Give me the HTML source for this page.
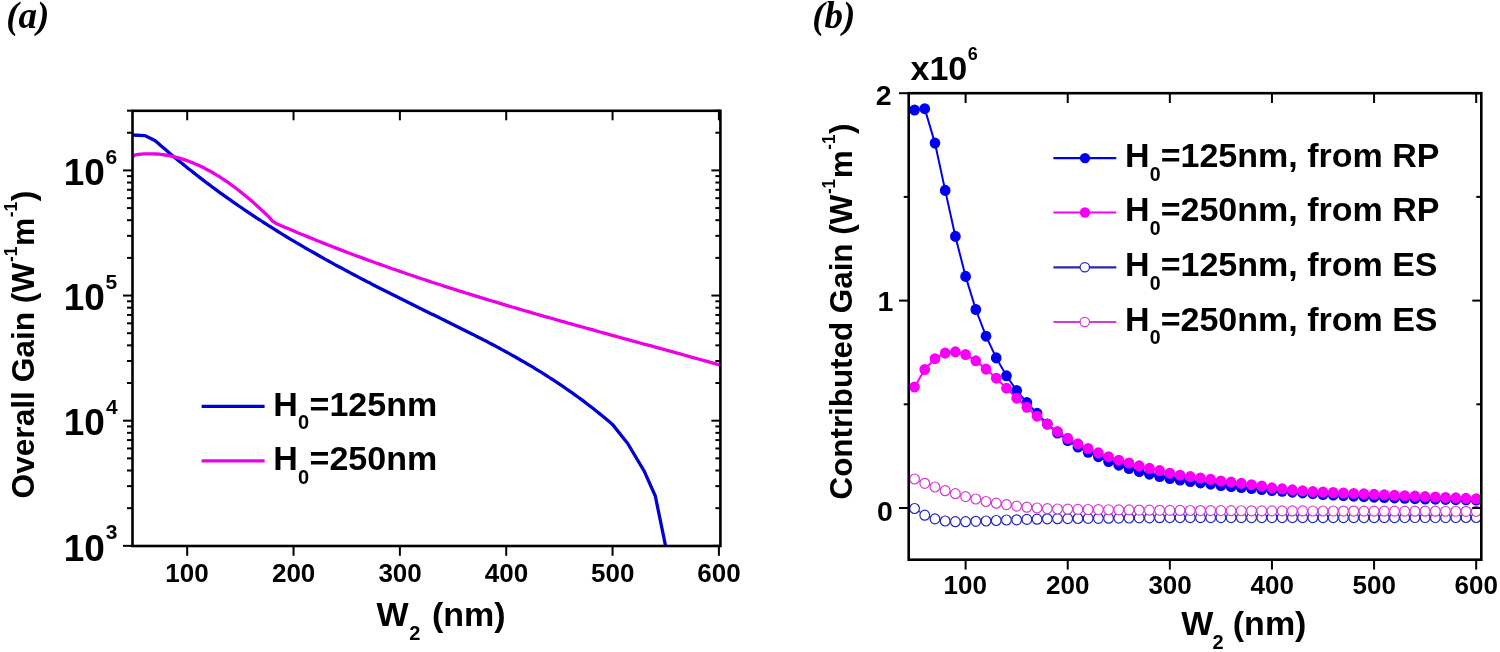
<!DOCTYPE html>
<html><head><meta charset="utf-8"><style>
html,body{margin:0;padding:0;background:#fff;width:1500px;height:652px;overflow:hidden}
svg{display:block;will-change:transform}
</style></head><body>
<svg width="1500" height="652" viewBox="0 0 1500 652">
<rect width="1500" height="652" fill="#fff"/>
<clipPath id="ca"><rect x="132.5" y="110.8" width="587.90" height="435.20"/></clipPath>
<g clip-path="url(#ca)">
<polyline points="132.3,135.0 144.7,135.6 154.9,140.4 157.9,143.1 160.9,145.7 163.9,148.3 166.9,150.8 169.9,153.4 172.9,155.9 175.9,158.4 178.9,160.9 181.9,163.3 184.9,165.7 187.9,168.2 190.9,170.5 193.9,172.9 196.9,175.2 199.9,177.6 202.9,179.9 205.9,182.2 208.9,184.4 211.9,186.7 214.9,188.9 217.9,191.1 220.9,193.3 223.9,195.4 226.9,197.6 229.9,199.7 232.9,201.8 235.9,203.9 238.9,206.0 241.9,208.0 244.9,210.1 247.9,212.1 250.9,214.1 253.9,216.1 256.9,218.1 259.9,220.0 262.9,222.0 265.9,223.9 268.9,225.8 271.9,227.7 274.9,229.6 277.9,231.5 280.9,233.3 283.9,235.1 286.9,237.0 289.9,238.8 292.9,240.6 295.9,242.4 298.9,244.1 301.9,245.9 304.9,247.7 307.9,249.4 310.9,251.1 313.9,252.8 316.9,254.5 319.9,256.2 322.9,257.9 325.9,259.6 328.9,261.3 331.9,262.9 334.9,264.6 337.9,266.2 340.9,267.8 343.9,269.4 346.9,271.0 349.9,272.6 352.9,274.2 355.9,275.8 358.9,277.4 361.9,279.0 364.9,280.5 367.9,282.1 370.9,283.6 373.9,285.2 376.9,286.7 379.9,288.3 382.9,289.8 385.9,291.3 388.9,292.8 391.9,294.3 394.9,295.8 397.9,297.3 400.9,298.8 403.9,300.3 406.9,301.8 409.9,303.3 412.9,304.8 415.9,306.3 418.9,307.8 421.9,309.2 424.9,310.7 427.9,312.2 430.9,313.7 433.9,315.1 436.9,316.6 439.9,318.1 442.9,319.5 445.9,321.0 448.9,322.5 451.9,324.0 454.9,325.4 457.9,326.9 460.9,328.4 463.9,329.9 466.9,331.4 469.9,332.9 472.9,334.4 475.9,336.0 478.9,337.5 481.9,339.0 484.9,340.6 487.9,342.1 490.9,343.7 493.9,345.3 496.9,346.9 499.9,348.5 502.9,350.1 505.9,351.8 508.9,353.4 511.9,355.1 514.9,356.8 517.9,358.5 520.9,360.2 523.9,361.9 526.9,363.7 529.9,365.4 532.9,367.2 535.9,369.1 538.9,370.9 541.9,372.7 544.9,374.6 547.9,376.5 550.9,378.5 553.9,380.4 556.9,382.4 559.9,384.4 562.9,386.4 565.9,388.5 568.9,390.6 571.9,392.7 574.9,394.8 577.9,397.0 580.9,399.2 583.9,401.4 586.9,403.7 589.9,406.0 592.9,408.3 595.9,410.7 598.9,413.1 601.9,415.5 604.9,418.0 607.9,420.5 610.9,423.0 612.5,424.4 627.7,443.5 644.2,471.2 655.3,496.0 665.5,545.6" fill="none" stroke="#0000D4" stroke-width="3.3" stroke-linejoin="round"/>
<polyline points="132.3,156.8 135.3,154.8 138.3,154.4 141.3,154.1 144.3,153.9 147.3,153.8 150.3,153.8 153.3,153.8 156.3,154.0 159.3,154.2 162.3,154.6 165.3,155.0 168.3,155.5 171.3,156.1 174.3,156.8 177.3,157.6 180.3,158.4 183.3,159.3 186.3,160.4 189.3,161.5 192.3,162.6 195.3,163.9 198.3,165.2 201.3,166.6 204.3,168.1 207.3,169.7 210.3,171.3 213.3,173.0 216.3,174.8 219.3,176.7 222.3,178.6 225.3,180.6 228.3,182.7 231.3,184.8 234.3,187.0 237.3,189.3 240.3,191.6 243.3,194.0 246.3,196.5 249.3,199.0 252.3,201.6 255.3,204.2 258.3,206.9 261.3,209.7 264.3,212.5 267.3,215.4 270.3,218.4 272.1,220.6 276.1,223.5 280.1,225.2 284.1,226.9 288.1,228.6 292.1,230.3 296.1,232.0 300.1,233.7 304.1,235.3 308.1,236.9 312.1,238.6 316.1,240.2 320.1,241.8 324.1,243.4 328.1,245.0 332.1,246.5 336.1,248.1 340.1,249.6 344.1,251.1 348.1,252.7 352.1,254.2 356.1,255.7 360.1,257.1 364.1,258.6 368.1,260.1 372.1,261.5 376.1,263.0 380.1,264.4 384.1,265.8 388.1,267.3 392.1,268.7 396.1,270.0 400.1,271.4 404.1,272.8 408.1,274.2 412.1,275.5 416.1,276.9 420.1,278.2 424.1,279.5 428.1,280.9 432.1,282.2 436.1,283.5 440.1,284.8 444.1,286.1 448.1,287.4 452.1,288.6 456.1,289.9 460.1,291.2 464.1,292.4 468.1,293.7 472.1,294.9 476.1,296.1 480.1,297.4 484.1,298.6 488.1,299.8 492.1,301.0 496.1,302.2 500.1,303.4 504.1,304.6 508.1,305.8 512.1,307.0 516.1,308.1 520.1,309.3 524.1,310.5 528.1,311.6 532.1,312.8 536.1,314.0 540.1,315.1 544.1,316.3 548.1,317.4 552.1,318.5 556.1,319.7 560.1,320.8 564.1,321.9 568.1,323.1 572.1,324.2 576.1,325.3 580.1,326.4 584.1,327.5 588.1,328.6 592.1,329.7 596.1,330.9 600.1,332.0 604.1,333.1 608.1,334.2 612.1,335.3 616.1,336.4 620.1,337.5 624.1,338.6 628.1,339.7 632.1,340.8 636.1,341.9 640.1,343.0 644.1,344.1 648.1,345.1 652.1,346.2 656.1,347.3 660.1,348.4 664.1,349.5 668.1,350.6 672.1,351.7 676.1,352.8 680.1,353.9 684.1,355.0 688.1,356.1 692.1,357.3 696.1,358.4 700.1,359.5 704.1,360.6 708.1,361.7 712.1,362.8 716.1,363.9 720.1,365.1 720.5,365.2" fill="none" stroke="#EC00E8" stroke-width="3.3" stroke-linejoin="round"/>
</g>
<line x1="187.20" y1="110.80" x2="187.20" y2="120.30" stroke="#000" stroke-width="2.0" stroke-linecap="butt"/>
<line x1="187.20" y1="546.00" x2="187.20" y2="555.80" stroke="#000" stroke-width="2.0" stroke-linecap="butt"/>
<line x1="293.54" y1="110.80" x2="293.54" y2="120.30" stroke="#000" stroke-width="2.0" stroke-linecap="butt"/>
<line x1="293.54" y1="546.00" x2="293.54" y2="555.80" stroke="#000" stroke-width="2.0" stroke-linecap="butt"/>
<line x1="399.88" y1="110.80" x2="399.88" y2="120.30" stroke="#000" stroke-width="2.0" stroke-linecap="butt"/>
<line x1="399.88" y1="546.00" x2="399.88" y2="555.80" stroke="#000" stroke-width="2.0" stroke-linecap="butt"/>
<line x1="506.22" y1="110.80" x2="506.22" y2="120.30" stroke="#000" stroke-width="2.0" stroke-linecap="butt"/>
<line x1="506.22" y1="546.00" x2="506.22" y2="555.80" stroke="#000" stroke-width="2.0" stroke-linecap="butt"/>
<line x1="612.56" y1="110.80" x2="612.56" y2="120.30" stroke="#000" stroke-width="2.0" stroke-linecap="butt"/>
<line x1="612.56" y1="546.00" x2="612.56" y2="555.80" stroke="#000" stroke-width="2.0" stroke-linecap="butt"/>
<line x1="718.90" y1="110.80" x2="718.90" y2="120.30" stroke="#000" stroke-width="2.0" stroke-linecap="butt"/>
<line x1="718.90" y1="546.00" x2="718.90" y2="555.80" stroke="#000" stroke-width="2.0" stroke-linecap="butt"/>
<line x1="123.00" y1="545.85" x2="132.50" y2="545.85" stroke="#000" stroke-width="2.0" stroke-linecap="butt"/>
<line x1="711.40" y1="545.85" x2="720.40" y2="545.85" stroke="#000" stroke-width="2.0" stroke-linecap="butt"/>
<line x1="127.00" y1="508.18" x2="132.50" y2="508.18" stroke="#000" stroke-width="2.0" stroke-linecap="butt"/>
<line x1="715.40" y1="508.18" x2="720.40" y2="508.18" stroke="#000" stroke-width="2.0" stroke-linecap="butt"/>
<line x1="127.00" y1="486.14" x2="132.50" y2="486.14" stroke="#000" stroke-width="2.0" stroke-linecap="butt"/>
<line x1="715.40" y1="486.14" x2="720.40" y2="486.14" stroke="#000" stroke-width="2.0" stroke-linecap="butt"/>
<line x1="127.00" y1="470.50" x2="132.50" y2="470.50" stroke="#000" stroke-width="2.0" stroke-linecap="butt"/>
<line x1="715.40" y1="470.50" x2="720.40" y2="470.50" stroke="#000" stroke-width="2.0" stroke-linecap="butt"/>
<line x1="127.00" y1="458.37" x2="132.50" y2="458.37" stroke="#000" stroke-width="2.0" stroke-linecap="butt"/>
<line x1="715.40" y1="458.37" x2="720.40" y2="458.37" stroke="#000" stroke-width="2.0" stroke-linecap="butt"/>
<line x1="127.00" y1="448.46" x2="132.50" y2="448.46" stroke="#000" stroke-width="2.0" stroke-linecap="butt"/>
<line x1="715.40" y1="448.46" x2="720.40" y2="448.46" stroke="#000" stroke-width="2.0" stroke-linecap="butt"/>
<line x1="127.00" y1="440.09" x2="132.50" y2="440.09" stroke="#000" stroke-width="2.0" stroke-linecap="butt"/>
<line x1="715.40" y1="440.09" x2="720.40" y2="440.09" stroke="#000" stroke-width="2.0" stroke-linecap="butt"/>
<line x1="127.00" y1="432.83" x2="132.50" y2="432.83" stroke="#000" stroke-width="2.0" stroke-linecap="butt"/>
<line x1="715.40" y1="432.83" x2="720.40" y2="432.83" stroke="#000" stroke-width="2.0" stroke-linecap="butt"/>
<line x1="127.00" y1="426.43" x2="132.50" y2="426.43" stroke="#000" stroke-width="2.0" stroke-linecap="butt"/>
<line x1="715.40" y1="426.43" x2="720.40" y2="426.43" stroke="#000" stroke-width="2.0" stroke-linecap="butt"/>
<line x1="123.00" y1="420.70" x2="132.50" y2="420.70" stroke="#000" stroke-width="2.0" stroke-linecap="butt"/>
<line x1="711.40" y1="420.70" x2="720.40" y2="420.70" stroke="#000" stroke-width="2.0" stroke-linecap="butt"/>
<line x1="127.00" y1="383.03" x2="132.50" y2="383.03" stroke="#000" stroke-width="2.0" stroke-linecap="butt"/>
<line x1="715.40" y1="383.03" x2="720.40" y2="383.03" stroke="#000" stroke-width="2.0" stroke-linecap="butt"/>
<line x1="127.00" y1="360.99" x2="132.50" y2="360.99" stroke="#000" stroke-width="2.0" stroke-linecap="butt"/>
<line x1="715.40" y1="360.99" x2="720.40" y2="360.99" stroke="#000" stroke-width="2.0" stroke-linecap="butt"/>
<line x1="127.00" y1="345.35" x2="132.50" y2="345.35" stroke="#000" stroke-width="2.0" stroke-linecap="butt"/>
<line x1="715.40" y1="345.35" x2="720.40" y2="345.35" stroke="#000" stroke-width="2.0" stroke-linecap="butt"/>
<line x1="127.00" y1="333.22" x2="132.50" y2="333.22" stroke="#000" stroke-width="2.0" stroke-linecap="butt"/>
<line x1="715.40" y1="333.22" x2="720.40" y2="333.22" stroke="#000" stroke-width="2.0" stroke-linecap="butt"/>
<line x1="127.00" y1="323.31" x2="132.50" y2="323.31" stroke="#000" stroke-width="2.0" stroke-linecap="butt"/>
<line x1="715.40" y1="323.31" x2="720.40" y2="323.31" stroke="#000" stroke-width="2.0" stroke-linecap="butt"/>
<line x1="127.00" y1="314.94" x2="132.50" y2="314.94" stroke="#000" stroke-width="2.0" stroke-linecap="butt"/>
<line x1="715.40" y1="314.94" x2="720.40" y2="314.94" stroke="#000" stroke-width="2.0" stroke-linecap="butt"/>
<line x1="127.00" y1="307.68" x2="132.50" y2="307.68" stroke="#000" stroke-width="2.0" stroke-linecap="butt"/>
<line x1="715.40" y1="307.68" x2="720.40" y2="307.68" stroke="#000" stroke-width="2.0" stroke-linecap="butt"/>
<line x1="127.00" y1="301.28" x2="132.50" y2="301.28" stroke="#000" stroke-width="2.0" stroke-linecap="butt"/>
<line x1="715.40" y1="301.28" x2="720.40" y2="301.28" stroke="#000" stroke-width="2.0" stroke-linecap="butt"/>
<line x1="123.00" y1="295.55" x2="132.50" y2="295.55" stroke="#000" stroke-width="2.0" stroke-linecap="butt"/>
<line x1="711.40" y1="295.55" x2="720.40" y2="295.55" stroke="#000" stroke-width="2.0" stroke-linecap="butt"/>
<line x1="127.00" y1="257.88" x2="132.50" y2="257.88" stroke="#000" stroke-width="2.0" stroke-linecap="butt"/>
<line x1="715.40" y1="257.88" x2="720.40" y2="257.88" stroke="#000" stroke-width="2.0" stroke-linecap="butt"/>
<line x1="127.00" y1="235.84" x2="132.50" y2="235.84" stroke="#000" stroke-width="2.0" stroke-linecap="butt"/>
<line x1="715.40" y1="235.84" x2="720.40" y2="235.84" stroke="#000" stroke-width="2.0" stroke-linecap="butt"/>
<line x1="127.00" y1="220.20" x2="132.50" y2="220.20" stroke="#000" stroke-width="2.0" stroke-linecap="butt"/>
<line x1="715.40" y1="220.20" x2="720.40" y2="220.20" stroke="#000" stroke-width="2.0" stroke-linecap="butt"/>
<line x1="127.00" y1="208.07" x2="132.50" y2="208.07" stroke="#000" stroke-width="2.0" stroke-linecap="butt"/>
<line x1="715.40" y1="208.07" x2="720.40" y2="208.07" stroke="#000" stroke-width="2.0" stroke-linecap="butt"/>
<line x1="127.00" y1="198.16" x2="132.50" y2="198.16" stroke="#000" stroke-width="2.0" stroke-linecap="butt"/>
<line x1="715.40" y1="198.16" x2="720.40" y2="198.16" stroke="#000" stroke-width="2.0" stroke-linecap="butt"/>
<line x1="127.00" y1="189.79" x2="132.50" y2="189.79" stroke="#000" stroke-width="2.0" stroke-linecap="butt"/>
<line x1="715.40" y1="189.79" x2="720.40" y2="189.79" stroke="#000" stroke-width="2.0" stroke-linecap="butt"/>
<line x1="127.00" y1="182.53" x2="132.50" y2="182.53" stroke="#000" stroke-width="2.0" stroke-linecap="butt"/>
<line x1="715.40" y1="182.53" x2="720.40" y2="182.53" stroke="#000" stroke-width="2.0" stroke-linecap="butt"/>
<line x1="127.00" y1="176.13" x2="132.50" y2="176.13" stroke="#000" stroke-width="2.0" stroke-linecap="butt"/>
<line x1="715.40" y1="176.13" x2="720.40" y2="176.13" stroke="#000" stroke-width="2.0" stroke-linecap="butt"/>
<line x1="123.00" y1="170.40" x2="132.50" y2="170.40" stroke="#000" stroke-width="2.0" stroke-linecap="butt"/>
<line x1="711.40" y1="170.40" x2="720.40" y2="170.40" stroke="#000" stroke-width="2.0" stroke-linecap="butt"/>
<line x1="127.00" y1="132.73" x2="132.50" y2="132.73" stroke="#000" stroke-width="2.0" stroke-linecap="butt"/>
<line x1="715.40" y1="132.73" x2="720.40" y2="132.73" stroke="#000" stroke-width="2.0" stroke-linecap="butt"/>
<line x1="127.00" y1="110.69" x2="132.50" y2="110.69" stroke="#000" stroke-width="2.0" stroke-linecap="butt"/>
<line x1="715.40" y1="110.69" x2="720.40" y2="110.69" stroke="#000" stroke-width="2.0" stroke-linecap="butt"/>
<rect x="132.5" y="110.8" width="587.90" height="435.20" fill="none" stroke="#000" stroke-width="2.6"/>
<text x="63.77" y="560.55" font-size="37" font-family="'Liberation Sans', sans-serif" font-weight="bold">10</text>
<text x="105.72" y="539.25" font-size="21" font-family="'Liberation Sans', sans-serif" font-weight="bold">3</text>
<text x="63.77" y="435.40" font-size="37" font-family="'Liberation Sans', sans-serif" font-weight="bold">10</text>
<text x="105.88" y="414.10" font-size="21" font-family="'Liberation Sans', sans-serif" font-weight="bold">4</text>
<text x="63.77" y="310.25" font-size="37" font-family="'Liberation Sans', sans-serif" font-weight="bold">10</text>
<text x="105.55" y="288.95" font-size="21" font-family="'Liberation Sans', sans-serif" font-weight="bold">5</text>
<text x="63.77" y="185.10" font-size="37" font-family="'Liberation Sans', sans-serif" font-weight="bold">10</text>
<text x="105.43" y="163.80" font-size="21" font-family="'Liberation Sans', sans-serif" font-weight="bold">6</text>
<text x="165.22" y="582.10" font-size="26" font-family="'Liberation Sans', sans-serif" font-weight="bold">100</text>
<text x="271.93" y="582.10" font-size="26" font-family="'Liberation Sans', sans-serif" font-weight="bold">200</text>
<text x="378.42" y="582.10" font-size="26" font-family="'Liberation Sans', sans-serif" font-weight="bold">300</text>
<text x="484.87" y="582.10" font-size="26" font-family="'Liberation Sans', sans-serif" font-weight="bold">400</text>
<text x="591.00" y="582.10" font-size="26" font-family="'Liberation Sans', sans-serif" font-weight="bold">500</text>
<text x="697.27" y="582.10" font-size="26" font-family="'Liberation Sans', sans-serif" font-weight="bold">600</text>
<text x="376.47" y="625.70" font-size="34" font-family="'Liberation Sans', sans-serif" font-weight="bold">W</text>
<text x="409.31" y="640.10" font-size="20" font-family="'Liberation Sans', sans-serif" font-weight="bold">2</text>
<text x="431.91" y="625.70" font-size="34" font-family="'Liberation Sans', sans-serif" font-weight="bold">(nm)</text>
<line x1="201.60" y1="406.30" x2="264.60" y2="406.30" stroke="#0000D4" stroke-width="3.2" stroke-linecap="butt"/>
<line x1="201.60" y1="460.90" x2="264.60" y2="460.90" stroke="#EC00E8" stroke-width="3.2" stroke-linecap="butt"/>
<text x="273.13" y="415.50" font-size="34" font-family="'Liberation Sans', sans-serif" font-weight="bold">H</text>
<text x="298.01" y="429.10" font-size="20" font-family="'Liberation Sans', sans-serif" font-weight="bold">0</text>
<text x="309.59" y="415.50" font-size="34" font-family="'Liberation Sans', sans-serif" font-weight="bold">=125nm</text>
<text x="273.13" y="469.90" font-size="34" font-family="'Liberation Sans', sans-serif" font-weight="bold">H</text>
<text x="298.01" y="483.50" font-size="20" font-family="'Liberation Sans', sans-serif" font-weight="bold">0</text>
<text x="309.59" y="469.90" font-size="34" font-family="'Liberation Sans', sans-serif" font-weight="bold">=250nm</text>
<g transform="translate(33.50,498.50) rotate(-90) scale(0.99,1)">
<text x="0.00" y="0.00" font-size="32" font-family="'Liberation Sans', sans-serif" font-weight="bold">Overall Gain (W</text>
<text x="238.88" y="-17.00" font-size="17.5" font-family="'Liberation Sans', sans-serif" font-weight="bold">-1</text>
<text x="255.04" y="0.00" font-size="32" font-family="'Liberation Sans', sans-serif" font-weight="bold">m</text>
<text x="284.09" y="-17.00" font-size="17.5" font-family="'Liberation Sans', sans-serif" font-weight="bold">-1</text>
<text x="300.25" y="0.00" font-size="32" font-family="'Liberation Sans', sans-serif" font-weight="bold">)</text>
</g>
<text x="6.18" y="28.10" font-size="37" font-family="'Liberation Serif', serif" font-weight="bold" font-style="italic">(a)</text>
<polyline points="914.54,110.00 924.75,108.70 934.96,143.10 945.18,190.40 955.39,236.40 965.60,276.40 975.81,309.50 986.02,336.20 996.24,357.90 1006.45,375.80 1016.66,390.50 1026.87,402.60 1037.08,413.40 1047.30,424.00 1057.51,433.00 1067.72,440.50 1077.93,447.00 1088.14,452.30 1098.36,456.60 1108.57,461.50 1118.78,465.20 1128.99,468.50 1139.20,471.50 1149.42,474.20 1159.63,476.50 1169.84,478.50 1180.05,480.00 1190.26,481.50 1200.48,482.83 1210.69,484.17 1220.90,485.50 1231.11,486.50 1241.32,487.50 1251.54,488.50 1261.75,489.50 1271.96,490.50 1282.17,491.30 1292.38,492.10 1302.60,492.90 1312.81,493.70 1323.02,494.50 1333.23,495.04 1343.44,495.58 1353.66,496.12 1363.87,496.66 1374.08,497.20 1384.29,497.56 1394.50,497.92 1404.72,498.28 1414.93,498.64 1425.14,499.00 1435.35,499.20 1445.56,499.40 1455.78,499.60 1465.99,499.80 1476.20,500.00" fill="none" stroke="#0000F0" stroke-width="2.0"/>
<ellipse cx="914.54" cy="110.00" rx="5.35" ry="5.55" fill="#0000F0"/>
<ellipse cx="924.75" cy="108.70" rx="5.35" ry="5.55" fill="#0000F0"/>
<ellipse cx="934.96" cy="143.10" rx="5.35" ry="5.55" fill="#0000F0"/>
<ellipse cx="945.18" cy="190.40" rx="5.35" ry="5.55" fill="#0000F0"/>
<ellipse cx="955.39" cy="236.40" rx="5.35" ry="5.55" fill="#0000F0"/>
<ellipse cx="965.60" cy="276.40" rx="5.35" ry="5.55" fill="#0000F0"/>
<ellipse cx="975.81" cy="309.50" rx="5.35" ry="5.55" fill="#0000F0"/>
<ellipse cx="986.02" cy="336.20" rx="5.35" ry="5.55" fill="#0000F0"/>
<ellipse cx="996.24" cy="357.90" rx="5.35" ry="5.55" fill="#0000F0"/>
<ellipse cx="1006.45" cy="375.80" rx="5.35" ry="5.55" fill="#0000F0"/>
<ellipse cx="1016.66" cy="390.50" rx="5.35" ry="5.55" fill="#0000F0"/>
<ellipse cx="1026.87" cy="402.60" rx="5.35" ry="5.55" fill="#0000F0"/>
<ellipse cx="1037.08" cy="413.40" rx="5.35" ry="5.55" fill="#0000F0"/>
<ellipse cx="1047.30" cy="424.00" rx="5.35" ry="5.55" fill="#0000F0"/>
<ellipse cx="1057.51" cy="433.00" rx="5.35" ry="5.55" fill="#0000F0"/>
<ellipse cx="1067.72" cy="440.50" rx="5.35" ry="5.55" fill="#0000F0"/>
<ellipse cx="1077.93" cy="447.00" rx="5.35" ry="5.55" fill="#0000F0"/>
<ellipse cx="1088.14" cy="452.30" rx="5.35" ry="5.55" fill="#0000F0"/>
<ellipse cx="1098.36" cy="456.60" rx="5.35" ry="5.55" fill="#0000F0"/>
<ellipse cx="1108.57" cy="461.50" rx="5.35" ry="5.55" fill="#0000F0"/>
<ellipse cx="1118.78" cy="465.20" rx="5.35" ry="5.55" fill="#0000F0"/>
<ellipse cx="1128.99" cy="468.50" rx="5.35" ry="5.55" fill="#0000F0"/>
<ellipse cx="1139.20" cy="471.50" rx="5.35" ry="5.55" fill="#0000F0"/>
<ellipse cx="1149.42" cy="474.20" rx="5.35" ry="5.55" fill="#0000F0"/>
<ellipse cx="1159.63" cy="476.50" rx="5.35" ry="5.55" fill="#0000F0"/>
<ellipse cx="1169.84" cy="478.50" rx="5.35" ry="5.55" fill="#0000F0"/>
<ellipse cx="1180.05" cy="480.00" rx="5.35" ry="5.55" fill="#0000F0"/>
<ellipse cx="1190.26" cy="481.50" rx="5.35" ry="5.55" fill="#0000F0"/>
<ellipse cx="1200.48" cy="482.83" rx="5.35" ry="5.55" fill="#0000F0"/>
<ellipse cx="1210.69" cy="484.17" rx="5.35" ry="5.55" fill="#0000F0"/>
<ellipse cx="1220.90" cy="485.50" rx="5.35" ry="5.55" fill="#0000F0"/>
<ellipse cx="1231.11" cy="486.50" rx="5.35" ry="5.55" fill="#0000F0"/>
<ellipse cx="1241.32" cy="487.50" rx="5.35" ry="5.55" fill="#0000F0"/>
<ellipse cx="1251.54" cy="488.50" rx="5.35" ry="5.55" fill="#0000F0"/>
<ellipse cx="1261.75" cy="489.50" rx="5.35" ry="5.55" fill="#0000F0"/>
<ellipse cx="1271.96" cy="490.50" rx="5.35" ry="5.55" fill="#0000F0"/>
<ellipse cx="1282.17" cy="491.30" rx="5.35" ry="5.55" fill="#0000F0"/>
<ellipse cx="1292.38" cy="492.10" rx="5.35" ry="5.55" fill="#0000F0"/>
<ellipse cx="1302.60" cy="492.90" rx="5.35" ry="5.55" fill="#0000F0"/>
<ellipse cx="1312.81" cy="493.70" rx="5.35" ry="5.55" fill="#0000F0"/>
<ellipse cx="1323.02" cy="494.50" rx="5.35" ry="5.55" fill="#0000F0"/>
<ellipse cx="1333.23" cy="495.04" rx="5.35" ry="5.55" fill="#0000F0"/>
<ellipse cx="1343.44" cy="495.58" rx="5.35" ry="5.55" fill="#0000F0"/>
<ellipse cx="1353.66" cy="496.12" rx="5.35" ry="5.55" fill="#0000F0"/>
<ellipse cx="1363.87" cy="496.66" rx="5.35" ry="5.55" fill="#0000F0"/>
<ellipse cx="1374.08" cy="497.20" rx="5.35" ry="5.55" fill="#0000F0"/>
<ellipse cx="1384.29" cy="497.56" rx="5.35" ry="5.55" fill="#0000F0"/>
<ellipse cx="1394.50" cy="497.92" rx="5.35" ry="5.55" fill="#0000F0"/>
<ellipse cx="1404.72" cy="498.28" rx="5.35" ry="5.55" fill="#0000F0"/>
<ellipse cx="1414.93" cy="498.64" rx="5.35" ry="5.55" fill="#0000F0"/>
<ellipse cx="1425.14" cy="499.00" rx="5.35" ry="5.55" fill="#0000F0"/>
<ellipse cx="1435.35" cy="499.20" rx="5.35" ry="5.55" fill="#0000F0"/>
<ellipse cx="1445.56" cy="499.40" rx="5.35" ry="5.55" fill="#0000F0"/>
<ellipse cx="1455.78" cy="499.60" rx="5.35" ry="5.55" fill="#0000F0"/>
<ellipse cx="1465.99" cy="499.80" rx="5.35" ry="5.55" fill="#0000F0"/>
<ellipse cx="1476.20" cy="500.00" rx="5.35" ry="5.55" fill="#0000F0"/>
<polyline points="914.54,387.00 924.75,369.50 934.96,358.70 945.18,353.10 955.39,351.90 965.60,354.50 975.81,360.80 986.02,369.10 996.24,378.20 1006.45,388.20 1016.66,398.20 1026.87,407.30 1037.08,416.20 1047.30,424.20 1057.51,431.50 1067.72,438.40 1077.93,443.80 1088.14,448.50 1098.36,452.90 1108.57,456.70 1118.78,460.20 1128.99,463.00 1139.20,465.90 1149.42,468.30 1159.63,470.60 1169.84,473.20 1180.05,475.20 1190.26,476.60 1200.48,478.00 1210.69,479.40 1220.90,481.00 1231.11,482.10 1241.32,483.40 1251.54,484.70 1261.75,486.00 1271.96,487.80 1282.17,488.90 1292.38,489.90 1302.60,490.80 1312.81,491.60 1323.02,492.06 1333.23,492.51 1343.44,492.97 1353.66,493.43 1363.87,493.89 1374.08,494.34 1384.29,494.80 1394.50,495.24 1404.72,495.69 1414.93,496.13 1425.14,496.58 1435.35,497.02 1445.56,497.47 1455.78,497.91 1465.99,498.36 1476.20,498.80" fill="none" stroke="#F800F8" stroke-width="2.0"/>
<ellipse cx="914.54" cy="387.00" rx="5.35" ry="5.55" fill="#F800F8"/>
<ellipse cx="924.75" cy="369.50" rx="5.35" ry="5.55" fill="#F800F8"/>
<ellipse cx="934.96" cy="358.70" rx="5.35" ry="5.55" fill="#F800F8"/>
<ellipse cx="945.18" cy="353.10" rx="5.35" ry="5.55" fill="#F800F8"/>
<ellipse cx="955.39" cy="351.90" rx="5.35" ry="5.55" fill="#F800F8"/>
<ellipse cx="965.60" cy="354.50" rx="5.35" ry="5.55" fill="#F800F8"/>
<ellipse cx="975.81" cy="360.80" rx="5.35" ry="5.55" fill="#F800F8"/>
<ellipse cx="986.02" cy="369.10" rx="5.35" ry="5.55" fill="#F800F8"/>
<ellipse cx="996.24" cy="378.20" rx="5.35" ry="5.55" fill="#F800F8"/>
<ellipse cx="1006.45" cy="388.20" rx="5.35" ry="5.55" fill="#F800F8"/>
<ellipse cx="1016.66" cy="398.20" rx="5.35" ry="5.55" fill="#F800F8"/>
<ellipse cx="1026.87" cy="407.30" rx="5.35" ry="5.55" fill="#F800F8"/>
<ellipse cx="1037.08" cy="416.20" rx="5.35" ry="5.55" fill="#F800F8"/>
<ellipse cx="1047.30" cy="424.20" rx="5.35" ry="5.55" fill="#F800F8"/>
<ellipse cx="1057.51" cy="431.50" rx="5.35" ry="5.55" fill="#F800F8"/>
<ellipse cx="1067.72" cy="438.40" rx="5.35" ry="5.55" fill="#F800F8"/>
<ellipse cx="1077.93" cy="443.80" rx="5.35" ry="5.55" fill="#F800F8"/>
<ellipse cx="1088.14" cy="448.50" rx="5.35" ry="5.55" fill="#F800F8"/>
<ellipse cx="1098.36" cy="452.90" rx="5.35" ry="5.55" fill="#F800F8"/>
<ellipse cx="1108.57" cy="456.70" rx="5.35" ry="5.55" fill="#F800F8"/>
<ellipse cx="1118.78" cy="460.20" rx="5.35" ry="5.55" fill="#F800F8"/>
<ellipse cx="1128.99" cy="463.00" rx="5.35" ry="5.55" fill="#F800F8"/>
<ellipse cx="1139.20" cy="465.90" rx="5.35" ry="5.55" fill="#F800F8"/>
<ellipse cx="1149.42" cy="468.30" rx="5.35" ry="5.55" fill="#F800F8"/>
<ellipse cx="1159.63" cy="470.60" rx="5.35" ry="5.55" fill="#F800F8"/>
<ellipse cx="1169.84" cy="473.20" rx="5.35" ry="5.55" fill="#F800F8"/>
<ellipse cx="1180.05" cy="475.20" rx="5.35" ry="5.55" fill="#F800F8"/>
<ellipse cx="1190.26" cy="476.60" rx="5.35" ry="5.55" fill="#F800F8"/>
<ellipse cx="1200.48" cy="478.00" rx="5.35" ry="5.55" fill="#F800F8"/>
<ellipse cx="1210.69" cy="479.40" rx="5.35" ry="5.55" fill="#F800F8"/>
<ellipse cx="1220.90" cy="481.00" rx="5.35" ry="5.55" fill="#F800F8"/>
<ellipse cx="1231.11" cy="482.10" rx="5.35" ry="5.55" fill="#F800F8"/>
<ellipse cx="1241.32" cy="483.40" rx="5.35" ry="5.55" fill="#F800F8"/>
<ellipse cx="1251.54" cy="484.70" rx="5.35" ry="5.55" fill="#F800F8"/>
<ellipse cx="1261.75" cy="486.00" rx="5.35" ry="5.55" fill="#F800F8"/>
<ellipse cx="1271.96" cy="487.80" rx="5.35" ry="5.55" fill="#F800F8"/>
<ellipse cx="1282.17" cy="488.90" rx="5.35" ry="5.55" fill="#F800F8"/>
<ellipse cx="1292.38" cy="489.90" rx="5.35" ry="5.55" fill="#F800F8"/>
<ellipse cx="1302.60" cy="490.80" rx="5.35" ry="5.55" fill="#F800F8"/>
<ellipse cx="1312.81" cy="491.60" rx="5.35" ry="5.55" fill="#F800F8"/>
<ellipse cx="1323.02" cy="492.06" rx="5.35" ry="5.55" fill="#F800F8"/>
<ellipse cx="1333.23" cy="492.51" rx="5.35" ry="5.55" fill="#F800F8"/>
<ellipse cx="1343.44" cy="492.97" rx="5.35" ry="5.55" fill="#F800F8"/>
<ellipse cx="1353.66" cy="493.43" rx="5.35" ry="5.55" fill="#F800F8"/>
<ellipse cx="1363.87" cy="493.89" rx="5.35" ry="5.55" fill="#F800F8"/>
<ellipse cx="1374.08" cy="494.34" rx="5.35" ry="5.55" fill="#F800F8"/>
<ellipse cx="1384.29" cy="494.80" rx="5.35" ry="5.55" fill="#F800F8"/>
<ellipse cx="1394.50" cy="495.24" rx="5.35" ry="5.55" fill="#F800F8"/>
<ellipse cx="1404.72" cy="495.69" rx="5.35" ry="5.55" fill="#F800F8"/>
<ellipse cx="1414.93" cy="496.13" rx="5.35" ry="5.55" fill="#F800F8"/>
<ellipse cx="1425.14" cy="496.58" rx="5.35" ry="5.55" fill="#F800F8"/>
<ellipse cx="1435.35" cy="497.02" rx="5.35" ry="5.55" fill="#F800F8"/>
<ellipse cx="1445.56" cy="497.47" rx="5.35" ry="5.55" fill="#F800F8"/>
<ellipse cx="1455.78" cy="497.91" rx="5.35" ry="5.55" fill="#F800F8"/>
<ellipse cx="1465.99" cy="498.36" rx="5.35" ry="5.55" fill="#F800F8"/>
<ellipse cx="1476.20" cy="498.80" rx="5.35" ry="5.55" fill="#F800F8"/>
<polyline points="914.54,508.50 924.75,515.20 934.96,518.90 945.18,521.00 955.39,521.70 965.60,521.70 975.81,521.30 986.02,521.00 996.24,520.50 1006.45,520.00 1016.66,519.80 1026.87,519.40 1037.08,519.20 1047.30,518.80 1057.51,518.70 1067.72,518.60 1077.93,518.50 1088.14,518.40 1098.36,518.30 1108.57,518.20 1118.78,518.10 1128.99,518.00 1139.20,517.90 1149.42,517.80 1159.63,517.70 1169.84,517.60 1180.05,517.60 1190.26,517.59 1200.48,517.59 1210.69,517.59 1220.90,517.58 1231.11,517.58 1241.32,517.58 1251.54,517.57 1261.75,517.57 1271.96,517.57 1282.17,517.56 1292.38,517.56 1302.60,517.56 1312.81,517.55 1323.02,517.55 1333.23,517.55 1343.44,517.54 1353.66,517.54 1363.87,517.54 1374.08,517.53 1384.29,517.53 1394.50,517.53 1404.72,517.52 1414.93,517.52 1425.14,517.52 1435.35,517.51 1445.56,517.51 1455.78,517.51 1465.99,517.50 1476.20,517.50" fill="none" stroke="#2626BE" stroke-width="1.1"/>
<ellipse cx="914.54" cy="508.50" rx="4.85" ry="5.0" fill="#fff" stroke="#2626BE" stroke-width="1.2"/>
<ellipse cx="924.75" cy="515.20" rx="4.85" ry="5.0" fill="#fff" stroke="#2626BE" stroke-width="1.2"/>
<ellipse cx="934.96" cy="518.90" rx="4.85" ry="5.0" fill="#fff" stroke="#2626BE" stroke-width="1.2"/>
<ellipse cx="945.18" cy="521.00" rx="4.85" ry="5.0" fill="#fff" stroke="#2626BE" stroke-width="1.2"/>
<ellipse cx="955.39" cy="521.70" rx="4.85" ry="5.0" fill="#fff" stroke="#2626BE" stroke-width="1.2"/>
<ellipse cx="965.60" cy="521.70" rx="4.85" ry="5.0" fill="#fff" stroke="#2626BE" stroke-width="1.2"/>
<ellipse cx="975.81" cy="521.30" rx="4.85" ry="5.0" fill="#fff" stroke="#2626BE" stroke-width="1.2"/>
<ellipse cx="986.02" cy="521.00" rx="4.85" ry="5.0" fill="#fff" stroke="#2626BE" stroke-width="1.2"/>
<ellipse cx="996.24" cy="520.50" rx="4.85" ry="5.0" fill="#fff" stroke="#2626BE" stroke-width="1.2"/>
<ellipse cx="1006.45" cy="520.00" rx="4.85" ry="5.0" fill="#fff" stroke="#2626BE" stroke-width="1.2"/>
<ellipse cx="1016.66" cy="519.80" rx="4.85" ry="5.0" fill="#fff" stroke="#2626BE" stroke-width="1.2"/>
<ellipse cx="1026.87" cy="519.40" rx="4.85" ry="5.0" fill="#fff" stroke="#2626BE" stroke-width="1.2"/>
<ellipse cx="1037.08" cy="519.20" rx="4.85" ry="5.0" fill="#fff" stroke="#2626BE" stroke-width="1.2"/>
<ellipse cx="1047.30" cy="518.80" rx="4.85" ry="5.0" fill="#fff" stroke="#2626BE" stroke-width="1.2"/>
<ellipse cx="1057.51" cy="518.70" rx="4.85" ry="5.0" fill="#fff" stroke="#2626BE" stroke-width="1.2"/>
<ellipse cx="1067.72" cy="518.60" rx="4.85" ry="5.0" fill="#fff" stroke="#2626BE" stroke-width="1.2"/>
<ellipse cx="1077.93" cy="518.50" rx="4.85" ry="5.0" fill="#fff" stroke="#2626BE" stroke-width="1.2"/>
<ellipse cx="1088.14" cy="518.40" rx="4.85" ry="5.0" fill="#fff" stroke="#2626BE" stroke-width="1.2"/>
<ellipse cx="1098.36" cy="518.30" rx="4.85" ry="5.0" fill="#fff" stroke="#2626BE" stroke-width="1.2"/>
<ellipse cx="1108.57" cy="518.20" rx="4.85" ry="5.0" fill="#fff" stroke="#2626BE" stroke-width="1.2"/>
<ellipse cx="1118.78" cy="518.10" rx="4.85" ry="5.0" fill="#fff" stroke="#2626BE" stroke-width="1.2"/>
<ellipse cx="1128.99" cy="518.00" rx="4.85" ry="5.0" fill="#fff" stroke="#2626BE" stroke-width="1.2"/>
<ellipse cx="1139.20" cy="517.90" rx="4.85" ry="5.0" fill="#fff" stroke="#2626BE" stroke-width="1.2"/>
<ellipse cx="1149.42" cy="517.80" rx="4.85" ry="5.0" fill="#fff" stroke="#2626BE" stroke-width="1.2"/>
<ellipse cx="1159.63" cy="517.70" rx="4.85" ry="5.0" fill="#fff" stroke="#2626BE" stroke-width="1.2"/>
<ellipse cx="1169.84" cy="517.60" rx="4.85" ry="5.0" fill="#fff" stroke="#2626BE" stroke-width="1.2"/>
<ellipse cx="1180.05" cy="517.60" rx="4.85" ry="5.0" fill="#fff" stroke="#2626BE" stroke-width="1.2"/>
<ellipse cx="1190.26" cy="517.59" rx="4.85" ry="5.0" fill="#fff" stroke="#2626BE" stroke-width="1.2"/>
<ellipse cx="1200.48" cy="517.59" rx="4.85" ry="5.0" fill="#fff" stroke="#2626BE" stroke-width="1.2"/>
<ellipse cx="1210.69" cy="517.59" rx="4.85" ry="5.0" fill="#fff" stroke="#2626BE" stroke-width="1.2"/>
<ellipse cx="1220.90" cy="517.58" rx="4.85" ry="5.0" fill="#fff" stroke="#2626BE" stroke-width="1.2"/>
<ellipse cx="1231.11" cy="517.58" rx="4.85" ry="5.0" fill="#fff" stroke="#2626BE" stroke-width="1.2"/>
<ellipse cx="1241.32" cy="517.58" rx="4.85" ry="5.0" fill="#fff" stroke="#2626BE" stroke-width="1.2"/>
<ellipse cx="1251.54" cy="517.57" rx="4.85" ry="5.0" fill="#fff" stroke="#2626BE" stroke-width="1.2"/>
<ellipse cx="1261.75" cy="517.57" rx="4.85" ry="5.0" fill="#fff" stroke="#2626BE" stroke-width="1.2"/>
<ellipse cx="1271.96" cy="517.57" rx="4.85" ry="5.0" fill="#fff" stroke="#2626BE" stroke-width="1.2"/>
<ellipse cx="1282.17" cy="517.56" rx="4.85" ry="5.0" fill="#fff" stroke="#2626BE" stroke-width="1.2"/>
<ellipse cx="1292.38" cy="517.56" rx="4.85" ry="5.0" fill="#fff" stroke="#2626BE" stroke-width="1.2"/>
<ellipse cx="1302.60" cy="517.56" rx="4.85" ry="5.0" fill="#fff" stroke="#2626BE" stroke-width="1.2"/>
<ellipse cx="1312.81" cy="517.55" rx="4.85" ry="5.0" fill="#fff" stroke="#2626BE" stroke-width="1.2"/>
<ellipse cx="1323.02" cy="517.55" rx="4.85" ry="5.0" fill="#fff" stroke="#2626BE" stroke-width="1.2"/>
<ellipse cx="1333.23" cy="517.55" rx="4.85" ry="5.0" fill="#fff" stroke="#2626BE" stroke-width="1.2"/>
<ellipse cx="1343.44" cy="517.54" rx="4.85" ry="5.0" fill="#fff" stroke="#2626BE" stroke-width="1.2"/>
<ellipse cx="1353.66" cy="517.54" rx="4.85" ry="5.0" fill="#fff" stroke="#2626BE" stroke-width="1.2"/>
<ellipse cx="1363.87" cy="517.54" rx="4.85" ry="5.0" fill="#fff" stroke="#2626BE" stroke-width="1.2"/>
<ellipse cx="1374.08" cy="517.53" rx="4.85" ry="5.0" fill="#fff" stroke="#2626BE" stroke-width="1.2"/>
<ellipse cx="1384.29" cy="517.53" rx="4.85" ry="5.0" fill="#fff" stroke="#2626BE" stroke-width="1.2"/>
<ellipse cx="1394.50" cy="517.53" rx="4.85" ry="5.0" fill="#fff" stroke="#2626BE" stroke-width="1.2"/>
<ellipse cx="1404.72" cy="517.52" rx="4.85" ry="5.0" fill="#fff" stroke="#2626BE" stroke-width="1.2"/>
<ellipse cx="1414.93" cy="517.52" rx="4.85" ry="5.0" fill="#fff" stroke="#2626BE" stroke-width="1.2"/>
<ellipse cx="1425.14" cy="517.52" rx="4.85" ry="5.0" fill="#fff" stroke="#2626BE" stroke-width="1.2"/>
<ellipse cx="1435.35" cy="517.51" rx="4.85" ry="5.0" fill="#fff" stroke="#2626BE" stroke-width="1.2"/>
<ellipse cx="1445.56" cy="517.51" rx="4.85" ry="5.0" fill="#fff" stroke="#2626BE" stroke-width="1.2"/>
<ellipse cx="1455.78" cy="517.51" rx="4.85" ry="5.0" fill="#fff" stroke="#2626BE" stroke-width="1.2"/>
<ellipse cx="1465.99" cy="517.50" rx="4.85" ry="5.0" fill="#fff" stroke="#2626BE" stroke-width="1.2"/>
<ellipse cx="1476.20" cy="517.50" rx="4.85" ry="5.0" fill="#fff" stroke="#2626BE" stroke-width="1.2"/>
<polyline points="914.54,479.00 924.75,483.30 934.96,487.00 945.18,490.70 955.39,493.70 965.60,496.60 975.81,499.00 986.02,501.50 996.24,503.20 1006.45,504.60 1016.66,506.10 1026.87,507.20 1037.08,508.00 1047.30,508.60 1057.51,509.00 1067.72,509.20 1077.93,509.40 1088.14,509.51 1098.36,509.62 1108.57,509.73 1118.78,509.84 1128.99,509.96 1139.20,510.07 1149.42,510.18 1159.63,510.29 1169.84,510.40 1180.05,510.45 1190.26,510.50 1200.48,510.55 1210.69,510.60 1220.90,510.65 1231.11,510.70 1241.32,510.75 1251.54,510.80 1261.75,510.85 1271.96,510.90 1282.17,510.92 1292.38,510.94 1302.60,510.96 1312.81,510.98 1323.02,511.00 1333.23,511.02 1343.44,511.04 1353.66,511.06 1363.87,511.08 1374.08,511.10 1384.29,511.12 1394.50,511.14 1404.72,511.16 1414.93,511.18 1425.14,511.20 1435.35,511.22 1445.56,511.24 1455.78,511.26 1465.99,511.28 1476.20,511.30" fill="none" stroke="#D23CD2" stroke-width="1.1"/>
<ellipse cx="914.54" cy="479.00" rx="4.85" ry="5.0" fill="#fff" stroke="#D23CD2" stroke-width="1.2"/>
<ellipse cx="924.75" cy="483.30" rx="4.85" ry="5.0" fill="#fff" stroke="#D23CD2" stroke-width="1.2"/>
<ellipse cx="934.96" cy="487.00" rx="4.85" ry="5.0" fill="#fff" stroke="#D23CD2" stroke-width="1.2"/>
<ellipse cx="945.18" cy="490.70" rx="4.85" ry="5.0" fill="#fff" stroke="#D23CD2" stroke-width="1.2"/>
<ellipse cx="955.39" cy="493.70" rx="4.85" ry="5.0" fill="#fff" stroke="#D23CD2" stroke-width="1.2"/>
<ellipse cx="965.60" cy="496.60" rx="4.85" ry="5.0" fill="#fff" stroke="#D23CD2" stroke-width="1.2"/>
<ellipse cx="975.81" cy="499.00" rx="4.85" ry="5.0" fill="#fff" stroke="#D23CD2" stroke-width="1.2"/>
<ellipse cx="986.02" cy="501.50" rx="4.85" ry="5.0" fill="#fff" stroke="#D23CD2" stroke-width="1.2"/>
<ellipse cx="996.24" cy="503.20" rx="4.85" ry="5.0" fill="#fff" stroke="#D23CD2" stroke-width="1.2"/>
<ellipse cx="1006.45" cy="504.60" rx="4.85" ry="5.0" fill="#fff" stroke="#D23CD2" stroke-width="1.2"/>
<ellipse cx="1016.66" cy="506.10" rx="4.85" ry="5.0" fill="#fff" stroke="#D23CD2" stroke-width="1.2"/>
<ellipse cx="1026.87" cy="507.20" rx="4.85" ry="5.0" fill="#fff" stroke="#D23CD2" stroke-width="1.2"/>
<ellipse cx="1037.08" cy="508.00" rx="4.85" ry="5.0" fill="#fff" stroke="#D23CD2" stroke-width="1.2"/>
<ellipse cx="1047.30" cy="508.60" rx="4.85" ry="5.0" fill="#fff" stroke="#D23CD2" stroke-width="1.2"/>
<ellipse cx="1057.51" cy="509.00" rx="4.85" ry="5.0" fill="#fff" stroke="#D23CD2" stroke-width="1.2"/>
<ellipse cx="1067.72" cy="509.20" rx="4.85" ry="5.0" fill="#fff" stroke="#D23CD2" stroke-width="1.2"/>
<ellipse cx="1077.93" cy="509.40" rx="4.85" ry="5.0" fill="#fff" stroke="#D23CD2" stroke-width="1.2"/>
<ellipse cx="1088.14" cy="509.51" rx="4.85" ry="5.0" fill="#fff" stroke="#D23CD2" stroke-width="1.2"/>
<ellipse cx="1098.36" cy="509.62" rx="4.85" ry="5.0" fill="#fff" stroke="#D23CD2" stroke-width="1.2"/>
<ellipse cx="1108.57" cy="509.73" rx="4.85" ry="5.0" fill="#fff" stroke="#D23CD2" stroke-width="1.2"/>
<ellipse cx="1118.78" cy="509.84" rx="4.85" ry="5.0" fill="#fff" stroke="#D23CD2" stroke-width="1.2"/>
<ellipse cx="1128.99" cy="509.96" rx="4.85" ry="5.0" fill="#fff" stroke="#D23CD2" stroke-width="1.2"/>
<ellipse cx="1139.20" cy="510.07" rx="4.85" ry="5.0" fill="#fff" stroke="#D23CD2" stroke-width="1.2"/>
<ellipse cx="1149.42" cy="510.18" rx="4.85" ry="5.0" fill="#fff" stroke="#D23CD2" stroke-width="1.2"/>
<ellipse cx="1159.63" cy="510.29" rx="4.85" ry="5.0" fill="#fff" stroke="#D23CD2" stroke-width="1.2"/>
<ellipse cx="1169.84" cy="510.40" rx="4.85" ry="5.0" fill="#fff" stroke="#D23CD2" stroke-width="1.2"/>
<ellipse cx="1180.05" cy="510.45" rx="4.85" ry="5.0" fill="#fff" stroke="#D23CD2" stroke-width="1.2"/>
<ellipse cx="1190.26" cy="510.50" rx="4.85" ry="5.0" fill="#fff" stroke="#D23CD2" stroke-width="1.2"/>
<ellipse cx="1200.48" cy="510.55" rx="4.85" ry="5.0" fill="#fff" stroke="#D23CD2" stroke-width="1.2"/>
<ellipse cx="1210.69" cy="510.60" rx="4.85" ry="5.0" fill="#fff" stroke="#D23CD2" stroke-width="1.2"/>
<ellipse cx="1220.90" cy="510.65" rx="4.85" ry="5.0" fill="#fff" stroke="#D23CD2" stroke-width="1.2"/>
<ellipse cx="1231.11" cy="510.70" rx="4.85" ry="5.0" fill="#fff" stroke="#D23CD2" stroke-width="1.2"/>
<ellipse cx="1241.32" cy="510.75" rx="4.85" ry="5.0" fill="#fff" stroke="#D23CD2" stroke-width="1.2"/>
<ellipse cx="1251.54" cy="510.80" rx="4.85" ry="5.0" fill="#fff" stroke="#D23CD2" stroke-width="1.2"/>
<ellipse cx="1261.75" cy="510.85" rx="4.85" ry="5.0" fill="#fff" stroke="#D23CD2" stroke-width="1.2"/>
<ellipse cx="1271.96" cy="510.90" rx="4.85" ry="5.0" fill="#fff" stroke="#D23CD2" stroke-width="1.2"/>
<ellipse cx="1282.17" cy="510.92" rx="4.85" ry="5.0" fill="#fff" stroke="#D23CD2" stroke-width="1.2"/>
<ellipse cx="1292.38" cy="510.94" rx="4.85" ry="5.0" fill="#fff" stroke="#D23CD2" stroke-width="1.2"/>
<ellipse cx="1302.60" cy="510.96" rx="4.85" ry="5.0" fill="#fff" stroke="#D23CD2" stroke-width="1.2"/>
<ellipse cx="1312.81" cy="510.98" rx="4.85" ry="5.0" fill="#fff" stroke="#D23CD2" stroke-width="1.2"/>
<ellipse cx="1323.02" cy="511.00" rx="4.85" ry="5.0" fill="#fff" stroke="#D23CD2" stroke-width="1.2"/>
<ellipse cx="1333.23" cy="511.02" rx="4.85" ry="5.0" fill="#fff" stroke="#D23CD2" stroke-width="1.2"/>
<ellipse cx="1343.44" cy="511.04" rx="4.85" ry="5.0" fill="#fff" stroke="#D23CD2" stroke-width="1.2"/>
<ellipse cx="1353.66" cy="511.06" rx="4.85" ry="5.0" fill="#fff" stroke="#D23CD2" stroke-width="1.2"/>
<ellipse cx="1363.87" cy="511.08" rx="4.85" ry="5.0" fill="#fff" stroke="#D23CD2" stroke-width="1.2"/>
<ellipse cx="1374.08" cy="511.10" rx="4.85" ry="5.0" fill="#fff" stroke="#D23CD2" stroke-width="1.2"/>
<ellipse cx="1384.29" cy="511.12" rx="4.85" ry="5.0" fill="#fff" stroke="#D23CD2" stroke-width="1.2"/>
<ellipse cx="1394.50" cy="511.14" rx="4.85" ry="5.0" fill="#fff" stroke="#D23CD2" stroke-width="1.2"/>
<ellipse cx="1404.72" cy="511.16" rx="4.85" ry="5.0" fill="#fff" stroke="#D23CD2" stroke-width="1.2"/>
<ellipse cx="1414.93" cy="511.18" rx="4.85" ry="5.0" fill="#fff" stroke="#D23CD2" stroke-width="1.2"/>
<ellipse cx="1425.14" cy="511.20" rx="4.85" ry="5.0" fill="#fff" stroke="#D23CD2" stroke-width="1.2"/>
<ellipse cx="1435.35" cy="511.22" rx="4.85" ry="5.0" fill="#fff" stroke="#D23CD2" stroke-width="1.2"/>
<ellipse cx="1445.56" cy="511.24" rx="4.85" ry="5.0" fill="#fff" stroke="#D23CD2" stroke-width="1.2"/>
<ellipse cx="1455.78" cy="511.26" rx="4.85" ry="5.0" fill="#fff" stroke="#D23CD2" stroke-width="1.2"/>
<ellipse cx="1465.99" cy="511.28" rx="4.85" ry="5.0" fill="#fff" stroke="#D23CD2" stroke-width="1.2"/>
<ellipse cx="1476.20" cy="511.30" rx="4.85" ry="5.0" fill="#fff" stroke="#D23CD2" stroke-width="1.2"/>
<line x1="965.60" y1="93.20" x2="965.60" y2="103.00" stroke="#000" stroke-width="2.0" stroke-linecap="butt"/>
<line x1="965.60" y1="559.70" x2="965.60" y2="569.60" stroke="#000" stroke-width="2.0" stroke-linecap="butt"/>
<line x1="1067.72" y1="93.20" x2="1067.72" y2="103.00" stroke="#000" stroke-width="2.0" stroke-linecap="butt"/>
<line x1="1067.72" y1="559.70" x2="1067.72" y2="569.60" stroke="#000" stroke-width="2.0" stroke-linecap="butt"/>
<line x1="1169.84" y1="93.20" x2="1169.84" y2="103.00" stroke="#000" stroke-width="2.0" stroke-linecap="butt"/>
<line x1="1169.84" y1="559.70" x2="1169.84" y2="569.60" stroke="#000" stroke-width="2.0" stroke-linecap="butt"/>
<line x1="1271.96" y1="93.20" x2="1271.96" y2="103.00" stroke="#000" stroke-width="2.0" stroke-linecap="butt"/>
<line x1="1271.96" y1="559.70" x2="1271.96" y2="569.60" stroke="#000" stroke-width="2.0" stroke-linecap="butt"/>
<line x1="1374.08" y1="93.20" x2="1374.08" y2="103.00" stroke="#000" stroke-width="2.0" stroke-linecap="butt"/>
<line x1="1374.08" y1="559.70" x2="1374.08" y2="569.60" stroke="#000" stroke-width="2.0" stroke-linecap="butt"/>
<line x1="1476.20" y1="93.20" x2="1476.20" y2="103.00" stroke="#000" stroke-width="2.0" stroke-linecap="butt"/>
<line x1="1476.20" y1="559.70" x2="1476.20" y2="569.60" stroke="#000" stroke-width="2.0" stroke-linecap="butt"/>
<line x1="899.00" y1="508.00" x2="908.70" y2="508.00" stroke="#000" stroke-width="2.0" stroke-linecap="butt"/>
<line x1="1472.30" y1="508.00" x2="1481.30" y2="508.00" stroke="#000" stroke-width="2.0" stroke-linecap="butt"/>
<line x1="903.70" y1="404.30" x2="908.70" y2="404.30" stroke="#000" stroke-width="2.0" stroke-linecap="butt"/>
<line x1="1476.30" y1="404.30" x2="1481.30" y2="404.30" stroke="#000" stroke-width="2.0" stroke-linecap="butt"/>
<line x1="899.00" y1="300.60" x2="908.70" y2="300.60" stroke="#000" stroke-width="2.0" stroke-linecap="butt"/>
<line x1="1472.30" y1="300.60" x2="1481.30" y2="300.60" stroke="#000" stroke-width="2.0" stroke-linecap="butt"/>
<line x1="903.70" y1="196.90" x2="908.70" y2="196.90" stroke="#000" stroke-width="2.0" stroke-linecap="butt"/>
<line x1="1476.30" y1="196.90" x2="1481.30" y2="196.90" stroke="#000" stroke-width="2.0" stroke-linecap="butt"/>
<line x1="899.00" y1="93.20" x2="908.70" y2="93.20" stroke="#000" stroke-width="2.0" stroke-linecap="butt"/>
<line x1="1472.30" y1="93.20" x2="1481.30" y2="93.20" stroke="#000" stroke-width="2.0" stroke-linecap="butt"/>
<rect x="908.7" y="93.2" width="572.60" height="466.50" fill="none" stroke="#000" stroke-width="2.6"/>
<text x="875.81" y="104.70" font-size="28.5" font-family="'Liberation Sans', sans-serif" font-weight="bold">2</text>
<text x="877.40" y="311.00" font-size="28.5" font-family="'Liberation Sans', sans-serif" font-weight="bold">1</text>
<text x="876.97" y="520.80" font-size="28.5" font-family="'Liberation Sans', sans-serif" font-weight="bold">0</text>
<text x="943.62" y="594.40" font-size="26" font-family="'Liberation Sans', sans-serif" font-weight="bold">100</text>
<text x="1046.11" y="594.40" font-size="26" font-family="'Liberation Sans', sans-serif" font-weight="bold">200</text>
<text x="1148.38" y="594.40" font-size="26" font-family="'Liberation Sans', sans-serif" font-weight="bold">300</text>
<text x="1250.61" y="594.40" font-size="26" font-family="'Liberation Sans', sans-serif" font-weight="bold">400</text>
<text x="1352.52" y="594.40" font-size="26" font-family="'Liberation Sans', sans-serif" font-weight="bold">500</text>
<text x="1454.57" y="594.40" font-size="26" font-family="'Liberation Sans', sans-serif" font-weight="bold">600</text>
<text x="910.47" y="79.80" font-size="34" font-family="'Liberation Sans', sans-serif" font-weight="bold">x10</text>
<text x="967.84" y="59.80" font-size="18" font-family="'Liberation Sans', sans-serif" font-weight="bold">6</text>
<text x="1181.37" y="635.40" font-size="34" font-family="'Liberation Sans', sans-serif" font-weight="bold">W</text>
<text x="1212.51" y="648.80" font-size="20" font-family="'Liberation Sans', sans-serif" font-weight="bold">2</text>
<text x="1232.81" y="635.00" font-size="34" font-family="'Liberation Sans', sans-serif" font-weight="bold">(nm)</text>
<line x1="1053.40" y1="158.10" x2="1116.30" y2="158.10" stroke="#0000F0" stroke-width="2.2" stroke-linecap="butt"/>
<circle cx="1085" cy="158.1" r="5.2" fill="#0000F0"/>
<text x="1124.93" y="167.00" font-size="34" font-family="'Liberation Sans', sans-serif" font-weight="bold">H</text>
<text x="1149.63" y="180.50" font-size="19.5" font-family="'Liberation Sans', sans-serif" font-weight="bold">0</text>
<text x="1160.69" y="167.00" font-size="34" font-family="'Liberation Sans', sans-serif" font-weight="bold">=125nm, from RP</text>
<line x1="1053.40" y1="212.50" x2="1116.30" y2="212.50" stroke="#F800F8" stroke-width="2.2" stroke-linecap="butt"/>
<circle cx="1085" cy="212.5" r="5.2" fill="#F800F8"/>
<text x="1124.93" y="221.40" font-size="34" font-family="'Liberation Sans', sans-serif" font-weight="bold">H</text>
<text x="1149.63" y="234.90" font-size="19.5" font-family="'Liberation Sans', sans-serif" font-weight="bold">0</text>
<text x="1160.69" y="221.40" font-size="34" font-family="'Liberation Sans', sans-serif" font-weight="bold">=250nm, from RP</text>
<line x1="1053.40" y1="267.30" x2="1116.30" y2="267.30" stroke="#2626BE" stroke-width="2.2" stroke-linecap="butt"/>
<circle cx="1084.8" cy="267.3" r="4.7" fill="#fff" stroke="#2626BE" stroke-width="1.25"/>
<text x="1124.93" y="276.20" font-size="34" font-family="'Liberation Sans', sans-serif" font-weight="bold">H</text>
<text x="1149.63" y="289.70" font-size="19.5" font-family="'Liberation Sans', sans-serif" font-weight="bold">0</text>
<text x="1160.69" y="276.20" font-size="34" font-family="'Liberation Sans', sans-serif" font-weight="bold">=125nm, from ES</text>
<line x1="1053.40" y1="322.00" x2="1116.30" y2="322.00" stroke="#D23CD2" stroke-width="2.2" stroke-linecap="butt"/>
<circle cx="1084.8" cy="322.0" r="4.7" fill="#fff" stroke="#D23CD2" stroke-width="1.25"/>
<text x="1124.93" y="330.90" font-size="34" font-family="'Liberation Sans', sans-serif" font-weight="bold">H</text>
<text x="1149.63" y="344.40" font-size="19.5" font-family="'Liberation Sans', sans-serif" font-weight="bold">0</text>
<text x="1160.69" y="330.90" font-size="34" font-family="'Liberation Sans', sans-serif" font-weight="bold">=250nm, from ES</text>
<g transform="translate(852.00,499.50) rotate(-90) scale(0.98,1)">
<text x="0.00" y="0.00" font-size="32" font-family="'Liberation Sans', sans-serif" font-weight="bold">Contributed Gain (W</text>
<text x="311.66" y="-17.00" font-size="17.5" font-family="'Liberation Sans', sans-serif" font-weight="bold">-1</text>
<text x="327.82" y="0.00" font-size="32" font-family="'Liberation Sans', sans-serif" font-weight="bold">m</text>
<text x="356.88" y="-17.00" font-size="17.5" font-family="'Liberation Sans', sans-serif" font-weight="bold">-1</text>
<text x="373.04" y="0.00" font-size="32" font-family="'Liberation Sans', sans-serif" font-weight="bold">)</text>
</g>
<text x="812.18" y="28.10" font-size="37" font-family="'Liberation Serif', serif" font-weight="bold" font-style="italic">(b)</text>
</svg>
</body></html>
